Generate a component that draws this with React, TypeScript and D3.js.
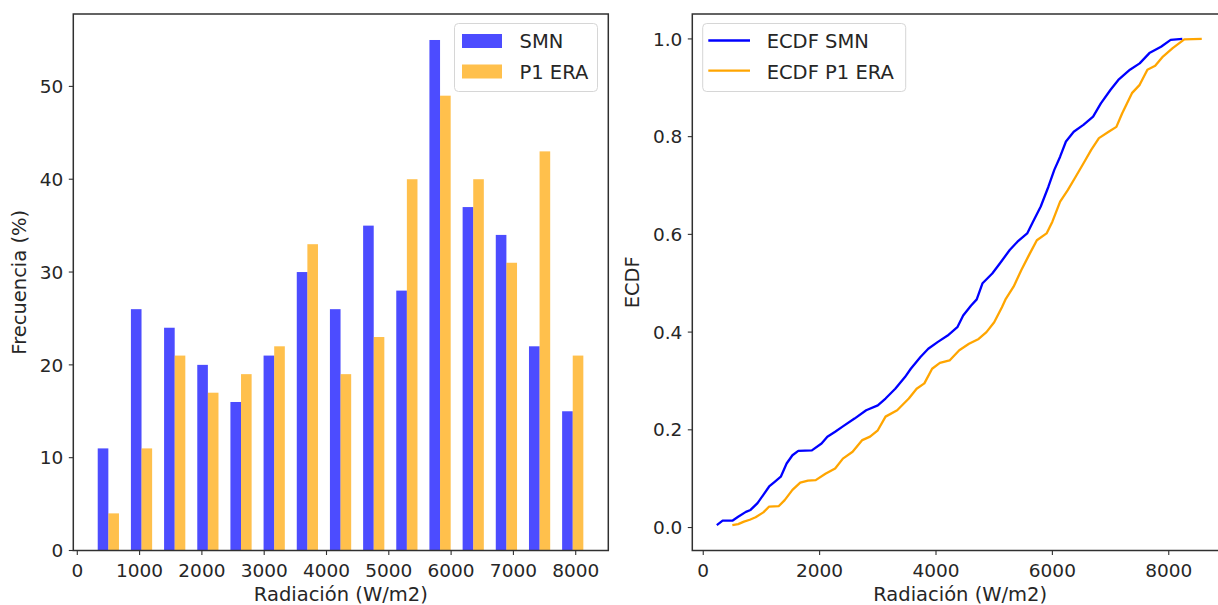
import React from "react";
import * as d3 from "d3";

// ---------- data ----------
const binEdges = [232, 765, 1297, 1830, 2362, 2894, 3427, 3959, 4492, 5024, 5556, 6089, 6621, 7154, 7686, 8218];
const smnFreq = [11, 26, 24, 20, 16, 21, 30, 26, 35, 28, 55, 37, 34, 22, 15];
const eraFreq = [4, 11, 21, 17, 19, 22, 33, 19, 23, 40, 49, 40, 31, 43, 21];

const histXTicks = [0, 1000, 2000, 3000, 4000, 5000, 6000, 7000, 8000];
const histYTicks = [0, 10, 20, 30, 40, 50];
const ecdfXTicks = [0, 2000, 4000, 6000, 8000];
const ecdfYTicks = [0, 0.2, 0.4, 0.6, 0.8, 1.0];

const ecdfSmnX = [233, 333, 500, 600, 733, 813, 933, 1033, 1133, 1233, 1333, 1433, 1533, 1633, 1867, 2033, 2133, 2267, 2400, 2600, 2800, 3000, 3133, 3300, 3467, 3567, 3733, 3867, 4033, 4200, 4367, 4467, 4600, 4700, 4800, 4967, 5100, 5267, 5400, 5567, 5667, 5800, 5933, 6033, 6133, 6233, 6367, 6533, 6700, 6833, 7000, 7133, 7333, 7500, 7667, 7867, 8033, 8233];
const ecdfSmnY = [0.005, 0.014, 0.014, 0.022, 0.032, 0.036, 0.05, 0.067, 0.084, 0.094, 0.104, 0.131, 0.148, 0.157, 0.158, 0.172, 0.186, 0.196, 0.207, 0.223, 0.24, 0.25, 0.264, 0.284, 0.308, 0.325, 0.349, 0.366, 0.38, 0.393, 0.41, 0.434, 0.454, 0.467, 0.5, 0.52, 0.541, 0.568, 0.585, 0.602, 0.626, 0.657, 0.698, 0.732, 0.759, 0.79, 0.81, 0.824, 0.841, 0.868, 0.896, 0.916, 0.937, 0.95, 0.971, 0.984, 0.998, 1.0];
const ecdfEraX = [500, 600, 700, 800, 900, 1033, 1133, 1300, 1400, 1533, 1667, 1800, 1933, 2100, 2267, 2400, 2567, 2733, 2867, 3000, 3133, 3333, 3533, 3667, 3800, 3933, 4067, 4233, 4400, 4567, 4733, 4867, 5000, 5133, 5200, 5333, 5467, 5600, 5733, 5900, 6000, 6133, 6267, 6400, 6533, 6667, 6800, 6967, 7100, 7200, 7367, 7500, 7633, 7767, 7900, 8067, 8267, 8567];
const ecdfEraY = [0.005, 0.007, 0.012, 0.016, 0.021, 0.031, 0.043, 0.044, 0.056, 0.077, 0.092, 0.096, 0.097, 0.11, 0.121, 0.141, 0.155, 0.179, 0.186, 0.199, 0.227, 0.24, 0.264, 0.284, 0.295, 0.325, 0.337, 0.342, 0.363, 0.376, 0.386, 0.4, 0.42, 0.451, 0.468, 0.493, 0.527, 0.558, 0.588, 0.602, 0.626, 0.667, 0.691, 0.718, 0.745, 0.773, 0.797, 0.81, 0.82, 0.848, 0.889, 0.906, 0.937, 0.945, 0.964, 0.981, 0.999, 1.0];

// ---------- layout ----------
const W = 1218, H = 605;
const FONT = "DejaVu Sans, sans-serif";
const TXT = "#262626";
const TICK_FS = 18.5;
const LABEL_FS = 19.5;
const LEG_FS = 19.5;

const L = { x0: 73.3, x1: 608.3, y0: 14, y1: 550.5 };
const R = { x0: 692.3, x1: 1228, y0: 14, y1: 550.5 };

const xL = d3.scaleLinear().domain([-64, 8523]).range([L.x0, L.x1]);
const yL = d3.scaleLinear().domain([0, 57.8]).range([L.y1, L.y0]);
const xR = d3.scaleLinear().domain([-188, 9018]).range([R.x0, R.x1]);
const yR = d3.scaleLinear().domain([-0.047, 1.051]).range([R.y1, R.y0]);

const BLUE = "#0000ff";
const ORANGE = "#ffa500";

function Frame({ b }: { b: typeof L }) {
  return (
    <rect x={b.x0} y={b.y0} width={b.x1 - b.x0} height={b.y1 - b.y0} fill="none" stroke="#303030" strokeWidth={1.5} />
  );
}

export default function App() {
  const bw = (i: number) => xL(binEdges[i + 1]) - xL(binEdges[i]);
  const lineGen = d3.line<[number, number]>().x((d) => xR(d[0])).y((d) => yR(d[1]));
  const smnPts: [number, number][] = ecdfSmnX.map((x, i) => [x, ecdfSmnY[i]]);
  const eraPts: [number, number][] = ecdfEraX.map((x, i) => [x, ecdfEraY[i]]);

  return (
    <svg width={W} height={H} style={{ position: "absolute", left: 0, top: 0, background: "#fff" }} fontFamily={FONT}>
      <rect x={0} y={0} width={W} height={H} fill="#fff" />
      {/* ---------- left histogram ---------- */}
      <g>
        {smnFreq.map((v, i) => {
          const w = bw(i);
          const x = xL(binEdges[i]) + 0.18 * w;
          return <rect key={"s" + i} x={x} y={yL(v)} width={0.32 * w} height={yL(0) - yL(v)} fill={BLUE} fillOpacity={0.7} />;
        })}
        {eraFreq.map((v, i) => {
          const w = bw(i);
          const x = xL(binEdges[i]) + 0.5 * w;
          return <rect key={"e" + i} x={x} y={yL(v)} width={0.32 * w} height={yL(0) - yL(v)} fill={ORANGE} fillOpacity={0.7} />;
        })}
        <Frame b={L} />
        {histXTicks.map((t) => (
          <g key={"xt" + t}>
            <line x1={xL(t)} x2={xL(t)} y1={L.y1} y2={L.y1 + 4.5} stroke="#303030" strokeWidth={1.1} />
            <text x={xL(t)} y={576.5} textAnchor="middle" fontSize={TICK_FS} fill={TXT}>{t}</text>
          </g>
        ))}
        {histYTicks.map((t) => (
          <g key={"yt" + t}>
            <line x1={L.x0 - 4.5} x2={L.x0} y1={yL(t)} y2={yL(t)} stroke="#303030" strokeWidth={1.1} />
            <text x={L.x0 - 10} y={yL(t)} dy="0.36em" textAnchor="end" fontSize={TICK_FS} fill={TXT}>{t}</text>
          </g>
        ))}
        <text x={(L.x0 + L.x1) / 2} y={601} textAnchor="middle" fontSize={LABEL_FS} fill={TXT}>Radiación (W/m2)</text>
        <text transform={`translate(19,${(L.y0 + L.y1) / 2}) rotate(-90)`} dy="0.36em" textAnchor="middle" fontSize={LABEL_FS} fill={TXT}>Frecuencia (%)</text>
        {/* legend */}
        <rect x={454.5} y={23.5} width={143} height={68} rx={4} fill="#fff" fillOpacity={0.8} stroke="#d6d6d6" strokeWidth={1} />
        <rect x={462} y={34} width={40} height={14} fill={BLUE} fillOpacity={0.7} />
        <rect x={462} y={64.5} width={40} height={14} fill={ORANGE} fillOpacity={0.7} />
        <text x={519.5} y={41} dy="0.36em" fontSize={LEG_FS} fill={TXT}>SMN</text>
        <text x={519.5} y={71.5} dy="0.36em" fontSize={LEG_FS} fill={TXT}>P1 ERA</text>
      </g>

      {/* ---------- right ECDF ---------- */}
      <g>
        <path d={lineGen(smnPts) || ""} fill="none" stroke={BLUE} strokeWidth={2.3} strokeLinejoin="round" />
        <path d={lineGen(eraPts) || ""} fill="none" stroke={ORANGE} strokeWidth={2.3} strokeLinejoin="round" />
        <Frame b={R} />
        {ecdfXTicks.map((t) => (
          <g key={"rxt" + t}>
            <line x1={xR(t)} x2={xR(t)} y1={R.y1} y2={R.y1 + 4.5} stroke="#303030" strokeWidth={1.1} />
            <text x={xR(t)} y={576.5} textAnchor="middle" fontSize={TICK_FS} fill={TXT}>{t}</text>
          </g>
        ))}
        {ecdfYTicks.map((t) => (
          <g key={"ryt" + t}>
            <line x1={R.x0 - 4.5} x2={R.x0} y1={yR(t)} y2={yR(t)} stroke="#303030" strokeWidth={1.1} />
            <text x={R.x0 - 10} y={yR(t)} dy="0.36em" textAnchor="end" fontSize={TICK_FS} fill={TXT}>{t.toFixed(1)}</text>
          </g>
        ))}
        <text x={(R.x0 + R.x1) / 2} y={601} textAnchor="middle" fontSize={LABEL_FS} fill={TXT}>Radiación (W/m2)</text>
        <text transform={`translate(632,${(R.y0 + R.y1) / 2}) rotate(-90)`} dy="0.36em" textAnchor="middle" fontSize={LABEL_FS} fill={TXT}>ECDF</text>
        {/* legend */}
        <rect x={702.7} y={23.5} width={203} height={68} rx={4} fill="#fff" fillOpacity={0.8} stroke="#d6d6d6" strokeWidth={1} />
        <line x1={708.3} x2={750} y1={40.5} y2={40.5} stroke={BLUE} strokeWidth={2.3} />
        <line x1={708.3} x2={750} y1={70.7} y2={70.7} stroke={ORANGE} strokeWidth={2.3} />
        <text x={766.7} y={41} dy="0.36em" fontSize={LEG_FS} fill={TXT}>ECDF SMN</text>
        <text x={766.7} y={71.5} dy="0.36em" fontSize={LEG_FS} fill={TXT}>ECDF P1 ERA</text>
      </g>
    </svg>
  );
}
